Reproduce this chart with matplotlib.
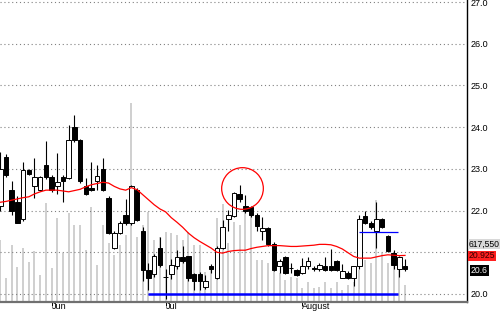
import matplotlib
matplotlib.use("Agg")
import matplotlib.pyplot as plt

# daily candles (price)
opens = [22.10, 23.28, 22.50, 22.20, 21.80, 22.97, 22.60, 22.50, 23.10, 22.80,
         22.60, 22.80, 22.77, 24.00, 23.70, 22.60, 22.55, 22.70, 23.00, 22.30,
         21.10, 21.47, 21.89, 21.70, 22.49, 21.50, 20.58, 20.47, 21.10, 20.40,
         20.48, 20.68, 20.88, 20.90, 20.47, 20.47, 20.17, 20.68, 20.38, 21.10,
         21.79, 21.88, 22.39, 22.10, 22.08, 21.89, 21.50, 21.59, 21.19, 20.66,
         20.88, 20.63, 20.58, 20.50, 20.66, 20.62, 20.59, 20.67, 20.67, 20.78,
         20.39, 20.50, 20.38, 20.66, 21.88, 21.70, 21.50, 21.79, 21.38, 20.99,
         20.59, 20.67]
highs = [23.40, 23.35, 22.70, 22.35, 23.16, 23.00, 23.25, 22.82, 23.68, 22.85,
         23.37, 22.85, 24.05, 24.29, 23.72, 22.77, 23.17, 23.09, 23.25, 22.35,
         21.50, 21.75, 22.27, 22.62, 22.55, 21.60, 20.75, 20.95, 21.36, 20.60,
         20.83, 21.05, 21.15, 20.92, 20.50, 20.52, 20.45, 20.72, 21.15, 21.77,
         22.01, 22.45, 22.61, 22.37, 22.12, 21.95, 21.85, 21.60, 21.25, 20.85,
         20.90, 20.75, 20.60, 20.86, 20.88, 20.68, 20.75, 20.88, 21.07, 20.82,
         20.72, 20.55, 20.68, 21.90, 21.98, 21.75, 22.21, 21.82, 21.42, 21.05,
         20.92, 20.85]
lows = [22.00, 22.80, 21.90, 21.70, 21.75, 22.85, 22.30, 22.48, 22.75, 22.45,
        22.40, 22.20, 22.75, 23.65, 22.65, 22.38, 22.48, 22.50, 22.48, 21.45,
        21.08, 21.45, 21.65, 21.65, 21.75, 20.30, 20.10, 20.40, 20.65, 19.87,
        20.35, 20.60, 20.75, 20.30, 20.10, 20.10, 20.12, 20.50, 20.35, 21.08,
        21.50, 21.85, 22.20, 21.95, 21.85, 21.50, 21.30, 21.15, 20.55, 20.51,
        20.48, 20.50, 20.42, 20.48, 20.60, 20.55, 20.55, 20.55, 20.55, 20.55,
        20.38, 20.35, 20.18, 20.60, 21.68, 21.55, 21.10, 21.58, 21.00, 20.60,
        20.41, 20.55]
closes = [23.00, 22.85, 22.00, 21.70, 22.97, 22.87, 22.80, 22.80, 22.80, 22.50,
          22.68, 22.70, 23.69, 23.70, 22.70, 22.40, 22.50, 22.82, 22.50, 21.47,
          21.47, 21.70, 21.70, 22.59, 21.77, 20.58, 20.38, 20.90, 20.70, 20.40,
          20.70, 20.88, 20.79, 20.38, 20.30, 20.30, 20.30, 20.60, 21.10, 21.60,
          21.89, 22.41, 22.27, 22.00, 21.89, 21.62, 21.59, 21.20, 20.58, 20.78,
          20.51, 20.62, 20.46, 20.67, 20.78, 20.60, 20.70, 20.58, 20.58, 20.58,
          20.54, 20.38, 20.66, 21.79, 21.70, 21.60, 21.79, 21.60, 21.02, 20.70,
          20.88, 20.60]
# red moving average, one value per candle
ma = [22.20, 22.22, 22.25, 22.28, 22.31, 22.33, 22.40, 22.45, 22.49, 22.49,
      22.49, 22.47, 22.45, 22.48, 22.51, 22.57, 22.62, 22.65, 22.68, 22.66,
      22.58, 22.52, 22.49, 22.55, 22.50, 22.38, 22.26, 22.14, 22.04, 21.97,
      21.83, 21.72, 21.60, 21.46, 21.35, 21.26, 21.18, 21.10, 21.00, 20.98,
      21.02, 21.04, 21.05, 21.05, 21.09, 21.12, 21.14, 21.16, 21.16, 21.16,
      21.15, 21.14, 21.14, 21.15, 21.16, 21.17, 21.19, 21.19, 21.18, 21.14,
      21.08, 20.99, 20.90, 20.86, 20.86, 20.86, 20.89, 20.92, 20.94, 20.93,
      20.92, 20.925]
# volume in thousands of shares
volume = [2283, 877, 2098, 1284, 1987, 1469, 1876, 988, 3652, 1247,
          3097, 1802, 3282, 2838, 2838, 1913, 3504, 1358, 2838, 2172,
          1728, 2098, 2468, 7352, 2394, 2838, 3319, 2283, 2394, 2579,
          2542, 2468, 2283, 2579, 2098, 2098, 1099, 1173, 3097, 3615,
          2172, 2949, 2838, 3504, 3208, 1543, 1543, 1432, 1432, 1062,
          803, 914, 877, 507, 729, 507, 544, 729, 507, 729,
          433, 618, 729, 1173, 1543, 1432, 3763, 1802, 1432, 1543,
          1358, 618]

month_ticks = [9, 29, 53]
month_labels = ["Jun", "Jul", "August"]
price_ticks = [20.0, 21.0, 22.0, 23.0, 24.0, 25.0, 26.0, 27.0]
# 21.0 sits under the value flags, so its label is not shown
price_labels = ["20.0", "", "22.0", "23.0", "24.0", "25.0", "26.0", "27.0"]

support_level, support_from, support_to = 20.0, 26.0, 69.8
resist_level, resist_from, resist_to = 21.49, 63.0, 69.8
circle_x, circle_y = 42.35, 22.54

last_volume = "617,550"
last_ma = "20.925"
last_close = "20.6"

plt.rcParams['font.family'] = ['Liberation Sans', 'DejaVu Sans']

fig = plt.figure(figsize=(5, 3.12), dpi=100)
ax = fig.add_axes([0, 10.3 / 312, 467 / 500, 301.7 / 312])
vax = ax.twinx()
ax.set_zorder(vax.get_zorder() + 1)
ax.patch.set_visible(False)

xs = list(range(len(opens)))

# volume bars behind everything
vax.bar(xs, volume, width=0.35, color="#d0d0d0", linewidth=0)
vax.set_ylim(0, 11163)
vax.set_yticks([])
for s in vax.spines.values():
    s.set_visible(False)

# grid
for p in price_ticks:
    ax.axhline(p, color="#808080", lw=0.8, linestyle=(0, (1, 2.5)), zorder=0)

# candles
ax.vlines(xs, lows, highs, color="black", lw=0.8, zorder=2)
up = [c >= o for o, c in zip(opens, closes)]
bottoms = [min(o, c) for o, c in zip(opens, closes)]
heights = [abs(c - o) for o, c in zip(opens, closes)]
ax.bar(xs, heights, bottom=bottoms, width=0.78,
       color=["white" if u else "black" for u in up],
       edgecolor="black", linewidth=0.7, zorder=3)

ax.plot(xs, ma, color="#ff0000", lw=0.9, zorder=4)

ax.hlines(support_level, support_from, support_to, color="#0000ff", lw=1.8, zorder=4)
ax.hlines(resist_level, resist_from, resist_to, color="#0000ff", lw=0.9, zorder=4)
ax.plot([circle_x], [circle_y], marker="o", markersize=30, markerfacecolor="none",
        markeredgecolor="#ff0000", markeredgewidth=0.9, zorder=5)

ax.set_xlim(-0.05, 81.88)
ax.set_ylim(19.815, 27.05)

ax.yaxis.tick_right()
ax.set_yticks(price_ticks)
ax.set_yticklabels(price_labels)
ax.tick_params(axis="y", length=0, pad=2.5, labelsize=6.5)

ax.set_xticks(month_ticks)
ax.set_xticklabels(month_labels, ha="left")
ax.tick_params(axis="x", length=3, width=0.7, pad=-3, labelsize=6.5)

ax.spines["left"].set_visible(False)
ax.spines["top"].set_visible(False)
ax.spines["right"].set_color("black")
ax.spines["right"].set_linewidth(1.0)
ax.spines["bottom"].set_color("#707070")
ax.spines["bottom"].set_linewidth(1.6)

# value flags at the right edge
trans = ax.get_yaxis_transform()
ax.text(1.004, 21.2, last_volume, transform=trans, fontsize=6.2, va="center",
        ha="left", bbox=dict(boxstyle="square,pad=0.05", fc="#d8d8d8", ec="none"),
        clip_on=False)
ax.text(1.004, 20.92, last_ma, transform=trans, fontsize=6.2, va="center",
        ha="left", color="#300000",
        bbox=dict(boxstyle="square,pad=0.05", fc="#ff2020", ec="none"), clip_on=False)
ax.text(1.008, 20.57, last_close, transform=trans, fontsize=6.2, va="center",
        ha="left", color="white",
        bbox=dict(boxstyle="square,pad=0.12", fc="black", ec="none"), clip_on=False)

fig.savefig("out.png", dpi=100)
